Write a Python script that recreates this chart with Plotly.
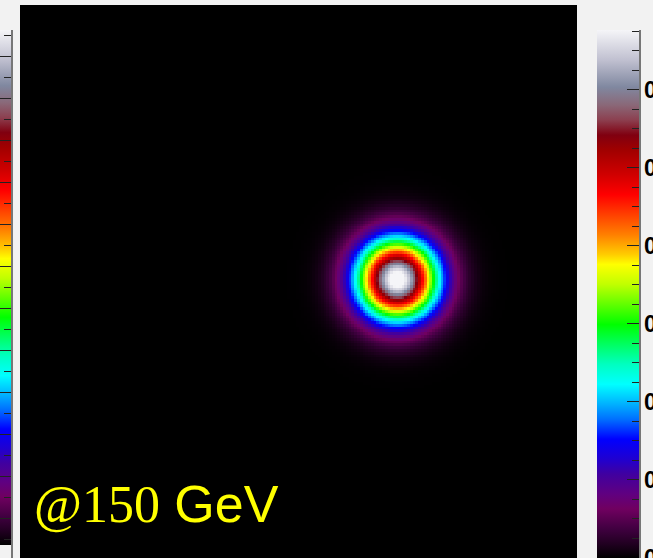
import numpy as np
import plotly.graph_objects as go

# ---- colour palette (fraction of range, colour) ----
palette_pos = [0.0, 0.026, 0.055, 0.093, 0.121, 0.159, 0.187, 0.225, 0.263, 0.291,
               0.329, 0.367, 0.405, 0.442, 0.480, 0.518, 0.556, 0.575, 0.612, 0.650,
               0.688, 0.726, 0.773, 0.801, 0.830, 0.858, 0.892, 0.943, 1.0]
palette_col = ["#000000", "#200020", "#400040", "#700060", "#600080", "#4000a0", "#2000d0",
               "#0000ff", "#0070ff", "#00b0ff", "#00ffff", "#00ffc0", "#00ff60", "#00ff00",
               "#60ff00", "#c0ff00", "#ffff00", "#ffcc00", "#ff8000", "#ff4000", "#ff0000",
               "#d00000", "#a00000", "#800010", "#8c4050", "#8a6878", "#8088a0", "#c0c0d0",
               "#f5f5f8"]
colorscale = [[p, c] for p, c in zip(palette_pos, palette_col)]

# ---- beam spot parameters ----
spot_x = 0.71        # centre x
spot_y = 0.0         # centre y
spot_sigma = 0.200   # width
spot_peak = 0.70     # peak content
z_max = 0.678        # top of colour scale
n_bins = 200
x_range = [-2.0, 2.0]
y_range = [-2.0, 1.97]

# colour-bar ticks
major_ticks = [0.0, 0.1, 0.2, 0.3, 0.4, 0.5, 0.6]
minor_ticks = [0.025, 0.05, 0.075, 0.125, 0.15, 0.175, 0.225, 0.25, 0.275, 0.325, 0.35,
               0.375, 0.425, 0.45, 0.475, 0.525, 0.55, 0.575, 0.625, 0.65, 0.675]
label_text = "<span style=\"font-family:'Liberation Serif'\">@150</span> GeV"

edges = np.linspace(-2.0, 2.0, n_bins + 1)
centers = 0.5 * (edges[:-1] + edges[1:])
XX, YY = np.meshgrid(centers, centers)
Z = spot_peak * np.exp(-((XX - spot_x) ** 2 + (YY - spot_y) ** 2) / (2 * spot_sigma ** 2))

W, H = 653, 558
ML, MR, MT, MB = 20, 76, 5, 0
PW, PH = W - ML - MR, H - MT - MB


def px_x(px):
    return (px - ML) / PW


def px_y(py):
    return (H - MB - py) / PH


bar_common = dict(thicknessmode="pixels", lenmode="pixels", xanchor="left", yanchor="top",
                  xpad=0, ypad=0, outlinewidth=0)
BAR_TOP = 30
BAR_LEN = 528

fig = go.Figure()
fig.add_trace(go.Heatmap(
    x=centers, y=centers, z=Z, zmin=0, zmax=z_max * BAR_LEN / 529, colorscale=colorscale,
    zsmooth=False, hoverinfo="skip",
    colorbar=dict(**bar_common, x=px_x(597), y=px_y(BAR_TOP), thickness=42, len=BAR_LEN,
                  tickmode="array", tickvals=major_ticks, ticks="inside", ticklen=12,
                  tickwidth=1, tickcolor="#222222", ticklabeloverflow="allow",
                  tickfont=dict(family="Liberation Sans", size=23, color="#000000",
                                weight="bold")),
))
# minor ticks of the right colour bar
fig.add_trace(go.Scatter(
    x=[None], y=[None], mode="markers", hoverinfo="skip", showlegend=False,
    marker=dict(color=[0], cmin=0, cmax=z_max * BAR_LEN / 529, showscale=True,
                colorscale=[[0, "rgba(0,0,0,0)"], [1, "rgba(0,0,0,0)"]],
                colorbar=dict(**bar_common, x=px_x(597), y=px_y(BAR_TOP), thickness=42,
                              len=BAR_LEN, tickmode="array", tickvals=minor_ticks,
                              ticks="inside", ticklen=7, tickwidth=1, tickcolor="#222222",
                              showticklabels=False)),
))
# axis line of the right colour bar
fig.add_trace(go.Scatter(
    x=[None], y=[None], mode="markers", hoverinfo="skip", showlegend=False,
    marker=dict(color=[0], cmin=0, cmax=1, showscale=True,
                colorscale=[[0, "#777777"], [1, "#777777"]],
                colorbar=dict(**bar_common, x=px_x(638.5), y=px_y(BAR_TOP), thickness=1,
                              len=BAR_LEN + 3, ticks="", showticklabels=False)),
))
# colour bar of the neighbouring pad (left sliver)
left_max = 515 / 420
fig.add_trace(go.Scatter(
    x=[None], y=[None], mode="markers", hoverinfo="skip", showlegend=False,
    marker=dict(color=[0], cmin=0, cmax=left_max, showscale=True, colorscale=colorscale,
                colorbar=dict(**bar_common, x=px_x(-31), y=px_y(30), thickness=42, len=515,
                              tickmode="linear", tick0=0.062, dtick=0.1, ticks="inside",
                              ticklen=14, tickwidth=1, tickcolor="#222222",
                              showticklabels=False)),
))
fig.add_trace(go.Scatter(
    x=[None], y=[None], mode="markers", hoverinfo="skip", showlegend=False,
    marker=dict(color=[0], cmin=0, cmax=left_max, showscale=True,
                colorscale=[[0, "rgba(0,0,0,0)"], [1, "rgba(0,0,0,0)"]],
                colorbar=dict(**bar_common, x=px_x(-31), y=px_y(30), thickness=42, len=515,
                              tickmode="linear", tick0=0.012, dtick=0.1, ticks="inside",
                              ticklen=7, tickwidth=1, tickcolor="#222222",
                              showticklabels=False)),
))
fig.add_trace(go.Scatter(
    x=[None], y=[None], mode="markers", hoverinfo="skip", showlegend=False,
    marker=dict(color=[0], cmin=0, cmax=1, showscale=True,
                colorscale=[[0, "#777777"], [1, "#777777"]],
                colorbar=dict(**bar_common, x=px_x(10.5), y=px_y(30), thickness=1, len=528,
                              ticks="", showticklabels=False)),
))

fig.add_annotation(
    text=label_text, xref="paper", yref="paper", x=px_x(32), y=px_y(504),
    xanchor="left", yanchor="middle", showarrow=False,
    font=dict(family="Liberation Sans", size=52, color="#ffff00"),
)

fig.update_layout(
    width=W, height=H, margin=dict(l=ML, r=MR, t=MT, b=MB, autoexpand=False),
    paper_bgcolor="#f2f2f2", plot_bgcolor="#000000",
    xaxis=dict(range=x_range, showgrid=False, zeroline=False, showticklabels=False,
               ticks="", showline=False),
    yaxis=dict(range=y_range, showgrid=False, zeroline=False, showticklabels=False,
               ticks="", showline=False),
    showlegend=False,
)

fig.write_html("out.html", config={"displayModeBar": False},
               post_script="document.body.style.margin='0px';")
